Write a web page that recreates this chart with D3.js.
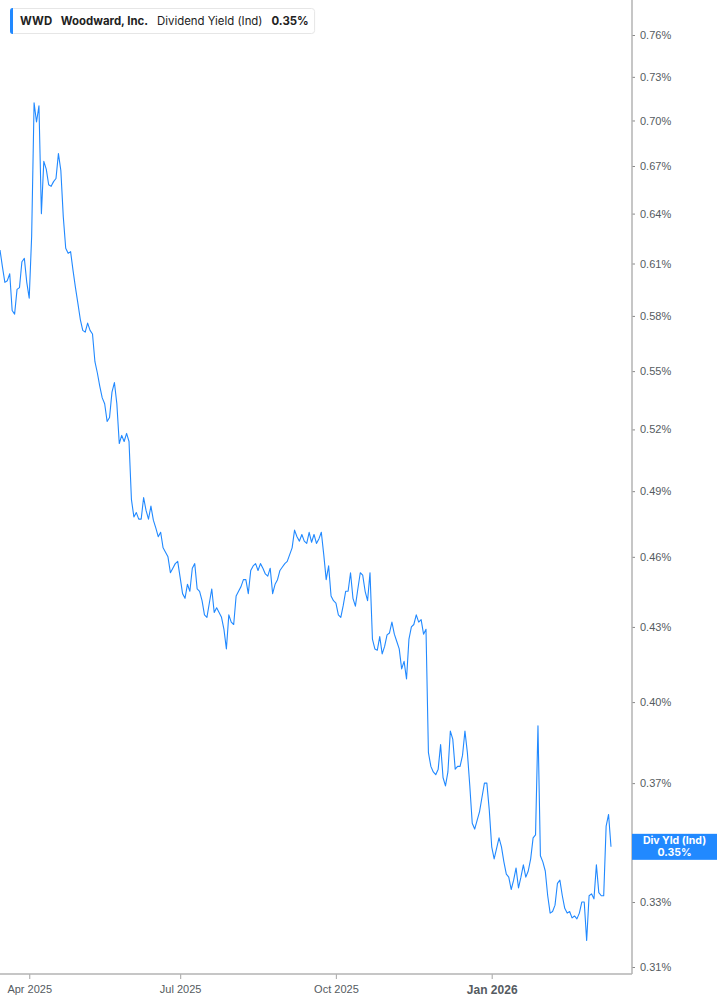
<!DOCTYPE html>
<html>
<head>
<meta charset="utf-8">
<script src="https://cdn.jsdelivr.net/npm/d3@7"></script>
<style>
  body { margin: 0; background: #fff; }
  svg { display: block; }
</style>
</head>
<body>
<div id="chart"></div>
<script>
// trading days, Mar 2025 - Mar 2026
var dates = [
  "2025-03-14","2025-03-17","2025-03-18","2025-03-19","2025-03-20","2025-03-21","2025-03-24","2025-03-25","2025-03-26","2025-03-27","2025-03-28","2025-03-31",
  "2025-04-01","2025-04-02","2025-04-03","2025-04-04","2025-04-07","2025-04-08","2025-04-09","2025-04-10","2025-04-11","2025-04-14","2025-04-15","2025-04-16","2025-04-17","2025-04-21","2025-04-22","2025-04-23","2025-04-24","2025-04-25","2025-04-28","2025-04-29","2025-04-30",
  "2025-05-01","2025-05-02","2025-05-05","2025-05-06","2025-05-07","2025-05-08","2025-05-09","2025-05-12","2025-05-13","2025-05-14","2025-05-15","2025-05-16","2025-05-19","2025-05-20","2025-05-21","2025-05-22","2025-05-23","2025-05-27","2025-05-28","2025-05-29","2025-05-30",
  "2025-06-02","2025-06-03","2025-06-04","2025-06-05","2025-06-06","2025-06-09","2025-06-10","2025-06-11","2025-06-12","2025-06-13","2025-06-16","2025-06-17","2025-06-18","2025-06-20","2025-06-23","2025-06-24","2025-06-25","2025-06-26","2025-06-27","2025-06-30",
  "2025-07-01","2025-07-02","2025-07-03","2025-07-07","2025-07-08","2025-07-09","2025-07-10","2025-07-11","2025-07-14","2025-07-15","2025-07-16","2025-07-17","2025-07-18","2025-07-21","2025-07-22","2025-07-23","2025-07-24","2025-07-25","2025-07-28","2025-07-29","2025-07-30","2025-07-31",
  "2025-08-01","2025-08-04","2025-08-05","2025-08-06","2025-08-07","2025-08-08","2025-08-11","2025-08-12","2025-08-13","2025-08-14","2025-08-15","2025-08-18","2025-08-19","2025-08-20","2025-08-21","2025-08-22","2025-08-25","2025-08-26","2025-08-27","2025-08-28","2025-08-29",
  "2025-09-02","2025-09-03","2025-09-04","2025-09-05","2025-09-08","2025-09-09","2025-09-10","2025-09-11","2025-09-12","2025-09-15","2025-09-16","2025-09-17","2025-09-18","2025-09-19","2025-09-22","2025-09-23","2025-09-24","2025-09-25","2025-09-26","2025-09-29","2025-09-30",
  "2025-10-01","2025-10-02","2025-10-03","2025-10-06","2025-10-07","2025-10-08","2025-10-09","2025-10-10","2025-10-13","2025-10-14","2025-10-15","2025-10-16","2025-10-17","2025-10-20","2025-10-21","2025-10-22","2025-10-23","2025-10-24","2025-10-27","2025-10-28","2025-10-29","2025-10-30","2025-10-31",
  "2025-11-03","2025-11-04","2025-11-05","2025-11-06","2025-11-07","2025-11-10","2025-11-11","2025-11-12","2025-11-13","2025-11-14","2025-11-17","2025-11-18","2025-11-19","2025-11-20","2025-11-21","2025-11-24","2025-11-25","2025-11-26","2025-11-28",
  "2025-12-01","2025-12-02","2025-12-03","2025-12-04","2025-12-05","2025-12-08","2025-12-09","2025-12-10","2025-12-11","2025-12-12","2025-12-15","2025-12-16","2025-12-17","2025-12-18","2025-12-19","2025-12-22","2025-12-23","2025-12-24","2025-12-26","2025-12-29","2025-12-30","2025-12-31",
  "2026-01-02","2026-01-05","2026-01-06","2026-01-07","2026-01-08","2026-01-09","2026-01-12","2026-01-13","2026-01-14","2026-01-15","2026-01-16","2026-01-20","2026-01-21","2026-01-22","2026-01-23","2026-01-26","2026-01-27","2026-01-28","2026-01-29","2026-01-30",
  "2026-02-02","2026-02-03","2026-02-04","2026-02-05","2026-02-06","2026-02-09","2026-02-10","2026-02-11","2026-02-12","2026-02-13","2026-02-17","2026-02-18","2026-02-19","2026-02-20","2026-02-23","2026-02-24","2026-02-25","2026-02-26","2026-02-27",
  "2026-03-02","2026-03-03","2026-03-04","2026-03-05","2026-03-06","2026-03-09","2026-03-10","2026-03-11","2026-03-12","2026-03-13","2026-03-16"
];

// dividend yield (Ind), percent
var divYield = [
  0.618,0.608,0.599,0.600,0.604,0.583,0.581,0.595,0.596,0.611,
  0.613,0.599,0.590,0.626,0.712,0.699,0.710,0.640,0.673,0.668,
  0.658,0.657,0.660,0.662,0.678,0.667,0.638,0.619,0.616,0.617,
  0.606,0.596,0.587,0.578,0.572,0.571,0.576,0.572,0.570,0.555,
  0.549,0.542,0.536,0.533,0.524,0.526,0.539,0.544,0.533,0.513,
  0.517,0.514,0.518,0.514,0.486,0.478,0.480,0.477,0.477,0.487,
  0.481,0.477,0.483,0.4765,0.473,0.469,0.471,0.464,0.462,0.460,
  0.453,0.455,0.457,0.458,0.451,0.444,0.442,0.448,0.445,0.455,
  0.457,0.446,0.445,0.441,0.435,0.434,0.440,0.446,0.436,0.438,
  0.436,0.434,0.429,0.421,0.435,0.432,0.431,0.443,0.445,0.447,
  0.450,0.450,0.444,0.454,0.456,0.457,0.454,0.457,0.455,0.4525,
  0.4515,0.455,0.444,0.448,0.450,0.454,0.4555,0.457,0.458,0.461,
  0.464,0.472,0.469,0.467,0.470,0.467,0.466,0.471,0.4665,0.470,
  0.466,0.468,0.471,0.461,0.450,0.456,0.443,0.441,0.440,0.435,
  0.434,0.439,0.445,0.445,0.453,0.442,0.4387,0.446,0.453,0.452,
  0.445,0.441,0.453,0.425,0.421,0.4205,0.426,0.419,0.422,0.4267,
  0.4275,0.432,0.427,0.424,0.421,0.413,0.416,0.409,0.425,0.430,
  0.431,0.435,0.432,0.433,0.427,0.429,0.381,0.376,0.374,0.373,
  0.375,0.384,0.372,0.369,0.374,0.389,0.386,0.375,0.376,0.376,
  0.380,0.389,0.381,0.369,0.356,0.354,0.357,0.360,0.365,0.370,
  0.370,0.3605,0.348,0.344,0.3475,0.351,0.348,0.343,0.339,0.338,
  0.334,0.337,0.341,0.3345,0.338,0.342,0.338,0.340,0.344,0.351,
  0.352,0.391,0.345,0.343,0.340,0.332,0.3265,0.327,0.329,0.336,
  0.337,0.332,0.328,0.3265,0.327,0.325,0.3256,0.3247,0.3265,0.330,
  0.330,0.318,0.332,0.3326,0.331,0.342,0.333,0.332,0.332,0.355,
  0.359,0.348
];

var yTicks = [0.31, 0.33, 0.37, 0.40, 0.43, 0.46, 0.49, 0.52, 0.55, 0.58, 0.61, 0.64, 0.67, 0.70, 0.73, 0.76];
var xTickMonths = ["2025-04", "2025-07", "2025-10", "2026-01"];

var ticker = "WWD",
  company = "Woodward, Inc.",
  metric = "Dividend Yield (Ind)",
  tagLabel = "Div Yld (Ind)";

var W = 717, H = 1005,
  plotRight = 632, plotBottom = 974;
var blue = "#2189ff", axisGrey = "#b3b3b3", labelGrey = "#555b61";

var svg = d3.select("#chart").append("svg")
  .attr("width", W)
  .attr("height", H)
  .style("font-family", "Roboto, 'Liberation Sans', sans-serif");

var x = d3.scaleLinear()
  .domain([0, dates.length - 1])
  .range([0, 611]);

var y = d3.scaleLog()
  .domain([0.31, 0.76])
  .range([967, 35]);

svg.append("defs").append("clipPath").attr("id", "plotclip")
  .append("rect")
  .attr("x", 0).attr("y", 0)
  .attr("width", plotRight).attr("height", plotBottom);

// line
var line = d3.line()
  .x(function(d, i) { return x(i); })
  .y(function(d) { return y(d); });

svg.append("path")
  .datum(divYield)
  .attr("clip-path", "url(#plotclip)")
  .attr("fill", "none")
  .attr("stroke", blue)
  .attr("stroke-width", 1.1)
  .attr("stroke-linejoin", "round")
  .attr("d", line);

// right axis
var yAxis = d3.axisRight(y)
  .tickValues(yTicks)
  .tickFormat(function(d) { return d.toFixed(2) + "%"; })
  .tickSize(3)
  .tickPadding(5);

var yg = svg.append("g")
  .attr("transform", "translate(" + plotRight + ",0)")
  .call(yAxis);
yg.select(".domain").remove();
yg.selectAll(".tick line").attr("stroke", "#888");
yg.selectAll(".tick text")
  .attr("fill", labelGrey)
  .style("font-size", "11px");

svg.append("line")
  .attr("x1", plotRight).attr("x2", plotRight)
  .attr("y1", 0).attr("y2", plotBottom)
  .attr("stroke", axisGrey)
  .attr("stroke-width", 1.5);

// bottom axis
var parse = d3.timeParse("%Y-%m-%d");
var fmt = d3.timeFormat("%b %Y");
var xTickIdx = xTickMonths.map(function(m) {
  return dates.findIndex(function(d) { return d.slice(0, 7) == m; });
});

var xAxis = d3.axisBottom(x)
  .tickValues(xTickIdx)
  .tickFormat(function(i) { return fmt(parse(dates[i])); })
  .tickSize(5)
  .tickPadding(6);

var xg = svg.append("g")
  .attr("transform", "translate(0," + plotBottom + ")")
  .call(xAxis);
xg.select(".domain").remove();
xg.selectAll(".tick line").attr("stroke", axisGrey).attr("stroke-width", 1.2);
xg.selectAll(".tick text")
  .attr("fill", labelGrey)
  .style("font-weight", function(i) { return dates[i].slice(5, 7) == "01" ? "bold" : "normal"; })
  .style("font-size", function(i) { return dates[i].slice(5, 7) == "01" ? "12px" : "11px"; });

svg.append("line")
  .attr("x1", 0).attr("x2", plotRight)
  .attr("y1", plotBottom).attr("y2", plotBottom)
  .attr("stroke", axisGrey)
  .attr("stroke-width", 1.5);

// last value tag on the axis
var last = divYield[divYield.length - 1];
var tagY = y(last);
svg.append("rect")
  .attr("x", plotRight)
  .attr("y", tagY - 13)
  .attr("width", W - plotRight)
  .attr("height", 26)
  .attr("fill", blue);
svg.append("text")
  .attr("x", (plotRight + W) / 2)
  .attr("y", tagY - 2.5)
  .attr("text-anchor", "middle")
  .attr("fill", "#fff")
  .style("font-family", "Inter, Roboto, sans-serif")
  .style("font-size", "10.5px")
  .style("font-weight", "bold")
  .text(tagLabel);
svg.append("text")
  .attr("x", (plotRight + W) / 2)
  .attr("y", tagY + 9)
  .attr("text-anchor", "middle")
  .attr("fill", "#fff")
  .style("font-family", "Inter, Roboto, sans-serif")
  .style("font-size", "10.5px")
  .style("font-weight", "bold")
  .text(last.toFixed(2) + "%");

// legend box top-left
var lg = svg.append("g");
var lbox = lg.append("rect")
  .attr("x", 10.5).attr("y", 8.5)
  .attr("height", 25)
  .attr("rx", 3)
  .attr("fill", "#fff")
  .attr("stroke", "#e6e6e6");

var ltext = lg.append("text")
  .attr("x", 20)
  .attr("y", 25)
  .attr("fill", "#222")
  .style("font-family", "Inter, Roboto, sans-serif")
  .style("font-size", "11.4px");
ltext.append("tspan").style("font-weight", "bold").text(ticker);
ltext.append("tspan").attr("dx", 9).style("font-weight", "bold").text(company);
ltext.append("tspan").attr("dx", 9).text(metric);
ltext.append("tspan").attr("dx", 9).style("font-weight", "bold").text(last.toFixed(2) + "%");

var bb = ltext.node().getBBox();
lbox.attr("width", bb.x + bb.width + 6 - 10.5);

lg.append("path")
  .attr("d", "M13,8 H12.5 Q10,8 10,11 V31 Q10,34 12.5,34 H13 Z")
  .attr("fill", blue);
</script>
</body>
</html>
